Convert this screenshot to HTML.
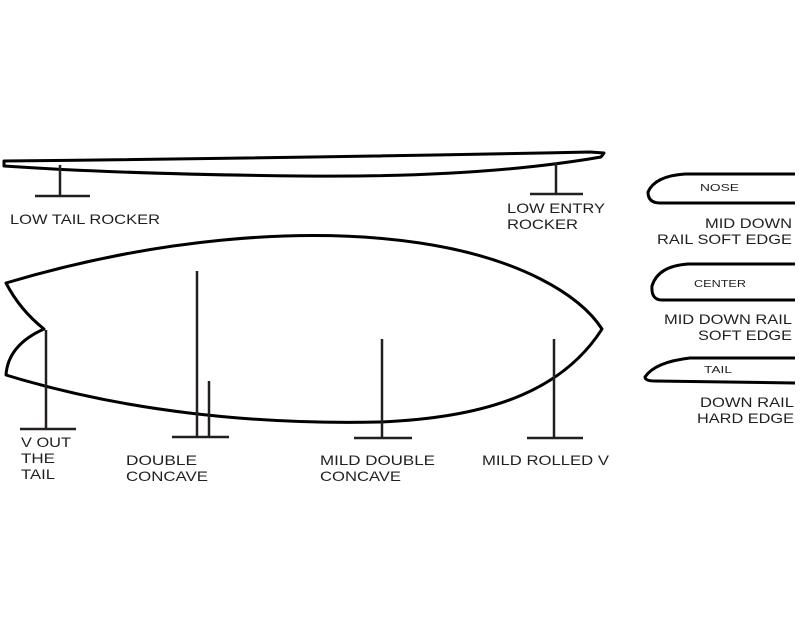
<!DOCTYPE html>
<html><head><style>html,body{margin:0;padding:0;background:#fff}svg{display:block}</style></head>
<body>
<svg width="800" height="631" viewBox="0 0 800 631" xmlns="http://www.w3.org/2000/svg">
<g fill="none" stroke="#000" stroke-width="3" stroke-linejoin="round">
<path d="M4,161 Q300,158 590,152 L604,153 L601,157 Q480,178 300,176 Q120,174 4,166 Z"/>
<path d="M6,283 C150,240 300,225 420,243 C520,258 580,295 602,329 C560,395 480,418 380,422 C250,425 120,410 6,375 Q8,345 44,329 Q20,310 6,283 Z"/>
<path d="M795,174 L685,174 Q655,176 648,192 Q648,203 660,203 L795,203"/>
<path d="M795,264 L688,264 Q658,266 652,286 Q651,300 662,300 L795,300"/>
<path d="M795,358 L690,358 Q655,362 645,377 Q645,381 655,381 L795,383"/>
</g>
<g stroke="#231f20" stroke-width="2.5" fill="none">
<path d="M60,165V196M35,196H90"/>
<path d="M556,163V194M530,194H583"/>
<path d="M46,330V429M20,429H76"/>
<path d="M197,271V437M209,381V437M172,437H229"/>
<path d="M382,339V438M354,438H412"/>
<path d="M554,339V438M527,438H583"/>
</g>
<g font-family="Liberation Sans, sans-serif" font-size="14" fill="#231f20">
<text x="10" y="224" textLength="150" lengthAdjust="spacingAndGlyphs">LOW TAIL ROCKER</text>
<text x="507" y="213" textLength="98" lengthAdjust="spacingAndGlyphs">LOW ENTRY</text>
<text x="507" y="229" textLength="71" lengthAdjust="spacingAndGlyphs">ROCKER</text>
<text x="21" y="447" textLength="50" lengthAdjust="spacingAndGlyphs">V OUT</text>
<text x="21" y="463" textLength="34" lengthAdjust="spacingAndGlyphs">THE</text>
<text x="21" y="479" textLength="34" lengthAdjust="spacingAndGlyphs">TAIL</text>
<text x="126" y="465" textLength="71" lengthAdjust="spacingAndGlyphs">DOUBLE</text>
<text x="126" y="481" textLength="82" lengthAdjust="spacingAndGlyphs">CONCAVE</text>
<text x="320" y="465" textLength="115" lengthAdjust="spacingAndGlyphs">MILD DOUBLE</text>
<text x="320" y="481" textLength="81" lengthAdjust="spacingAndGlyphs">CONCAVE</text>
<text x="482" y="465" textLength="127" lengthAdjust="spacingAndGlyphs">MILD ROLLED V</text>
<text x="705" y="228" textLength="87" lengthAdjust="spacingAndGlyphs">MID DOWN</text>
<text x="657" y="244" textLength="135" lengthAdjust="spacingAndGlyphs">RAIL SOFT EDGE</text>
<text x="664" y="324" textLength="128" lengthAdjust="spacingAndGlyphs">MID DOWN RAIL</text>
<text x="698" y="340" textLength="94" lengthAdjust="spacingAndGlyphs">SOFT EDGE</text>
<text x="700" y="407" textLength="94" lengthAdjust="spacingAndGlyphs">DOWN RAIL</text>
<text x="697" y="423" textLength="97" lengthAdjust="spacingAndGlyphs">HARD EDGE</text>
</g>
<g font-family="Liberation Sans, sans-serif" font-size="10.5" fill="#231f20">
<text x="700" y="191" textLength="39" lengthAdjust="spacingAndGlyphs">NOSE</text>
<text x="694" y="287" textLength="52" lengthAdjust="spacingAndGlyphs">CENTER</text>
<text x="704" y="373" textLength="28" lengthAdjust="spacingAndGlyphs">TAIL</text>
</g>
</svg>
</body></html>
